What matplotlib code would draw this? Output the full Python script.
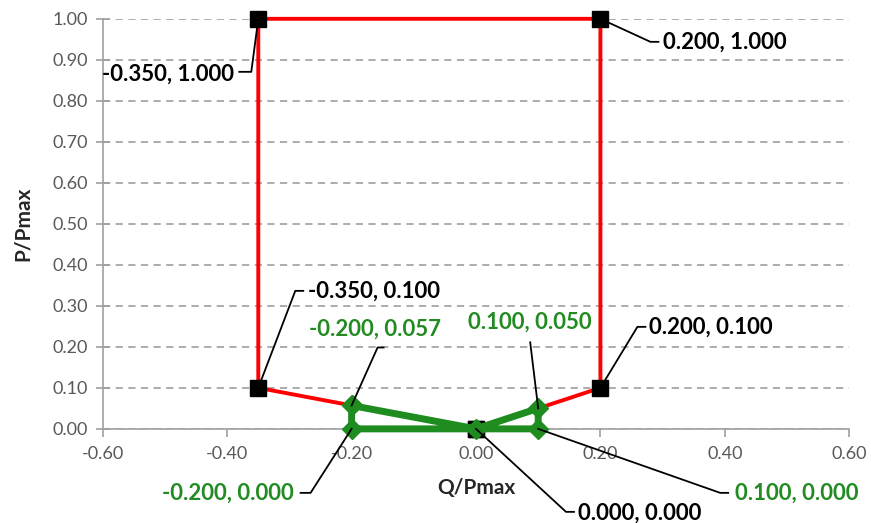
import matplotlib
matplotlib.use("Agg")
import matplotlib.pyplot as plt

# Data
red_q = [0.0, -0.35, -0.35, 0.20, 0.20, 0.0]
red_p = [0.0, 0.10, 1.00, 1.00, 0.10, 0.0]
green_q = [-0.20, 0.0, 0.10, 0.10, -0.20, -0.20]
green_p = [0.057, 0.0, 0.050, 0.0, 0.0, 0.057]
x_ticks = [-0.60, -0.40, -0.20, 0.00, 0.20, 0.40, 0.60]
y_ticks = [0.0, 0.1, 0.2, 0.3, 0.4, 0.5, 0.6, 0.7, 0.8, 0.9, 1.0]

# label: point, text, corner offset px, hook length px (signed), text offset px, ha, color
labels = [
    ((-0.35, 1.0), "-0.350, 1.000", (-7, -53), -12, (-24, -55), "right", "black"),
    ((0.20, 1.0), "0.200, 1.000", (50, -23), 8, (63, -23), "left", "black"),
    ((-0.35, 0.1), "-0.350, 0.100", (37, 97), 8, (50, 97), "left", "black"),
    ((0.20, 0.1), "0.200, 0.100", (37, 61), 8, (49, 61), "left", "black"),
    ((-0.20, 0.057), "-0.200, 0.057", (26, 58), 6, (23, 76), "center", "#228B22"),
    ((0.10, 0.050), "0.100, 0.050", (-8, 66), 0, (-8, 86), "center", "#228B22"),
    ((-0.20, 0.0), "-0.200, 0.000", (-41, -64), -10, (-58, -64), "right", "#228B22"),
    ((0.0, 0.0), "0.000, 0.000", (90, -83), 8, (102, -84), "left", "black"),
    ((0.10, 0.0), "0.100, 0.000", (182, -64), 8, (197, -64), "left", "#228B22"),
]

plt.rcParams['font.family'] = ['Lato', 'DejaVu Sans']

fig = plt.figure(figsize=(8.71, 5.23), dpi=100)
ax = fig.add_axes([0.118, 0.180, 0.857, 0.784])

ax.plot(red_q, red_p, color="#FF0000", lw=2.8, zorder=3, clip_on=False,
        marker="s", markersize=11, markerfacecolor="black", markeredgecolor="black")
ax.plot(green_q, green_p, color="#1E8C1E", lw=5, zorder=4, clip_on=False,
        marker="D", markersize=10, markerfacecolor="#1E8C1E", markeredgecolor="#1E8C1E")

ax.set_xlim(-0.6, 0.6)
ax.set_ylim(0, 1.0)
ax.set_xticks(x_ticks)
ax.set_xticklabels([f"{v:.2f}" for v in x_ticks])
ax.set_yticks(y_ticks)
ax.set_yticklabels([f"{v:.2f}" for v in y_ticks])

for s in ["top", "right"]:
    ax.spines[s].set_visible(False)
for s in ["left", "bottom"]:
    ax.spines[s].set_color("#a0a0a0")
    ax.spines[s].set_linewidth(1.2)
ax.tick_params(axis="y", direction="inout", length=10, width=1.2, color="#a0a0a0",
               labelsize=13, labelcolor="#595959", pad=6)
ax.tick_params(axis="x", direction="out", length=6, width=1.2, color="#a0a0a0",
               labelsize=13, labelcolor="#595959", pad=6)
ax.yaxis.grid(True, linestyle=(0, (4, 3)), color="#a6a6a6", lw=1.3)
ax.set_axisbelow(True)

ax.set_ylabel("P/Pmax", fontsize=15, fontweight="bold", color="#262626", labelpad=14)
ax.set_xlabel("Q/Pmax", fontsize=15, fontweight="bold", color="#262626", labelpad=12)

inv = fig.transFigure.inverted()
for (pt, txt, corner, hook, toff, ha, col) in labels:
    base = ax.transData.transform(pt)
    x0, y0 = base[0] + corner[0], base[1] + corner[1]
    xs = [base[0], x0] + ([x0 + hook] if hook != 0 else [])
    ys = [base[1], y0] + ([y0] if hook != 0 else [])
    pts = inv.transform(list(zip(xs, ys)))
    fig.add_artist(plt.Line2D(pts[:, 0], pts[:, 1], color="black", lw=1.3,
                              transform=fig.transFigure, zorder=6))
    ax.annotate(txt, xy=pt, xytext=toff, textcoords="offset pixels",
                ha=ha, va="center", fontsize=16, fontweight="bold", color=col,
                zorder=7, annotation_clip=False)

fig.savefig("out.png", dpi=100)
